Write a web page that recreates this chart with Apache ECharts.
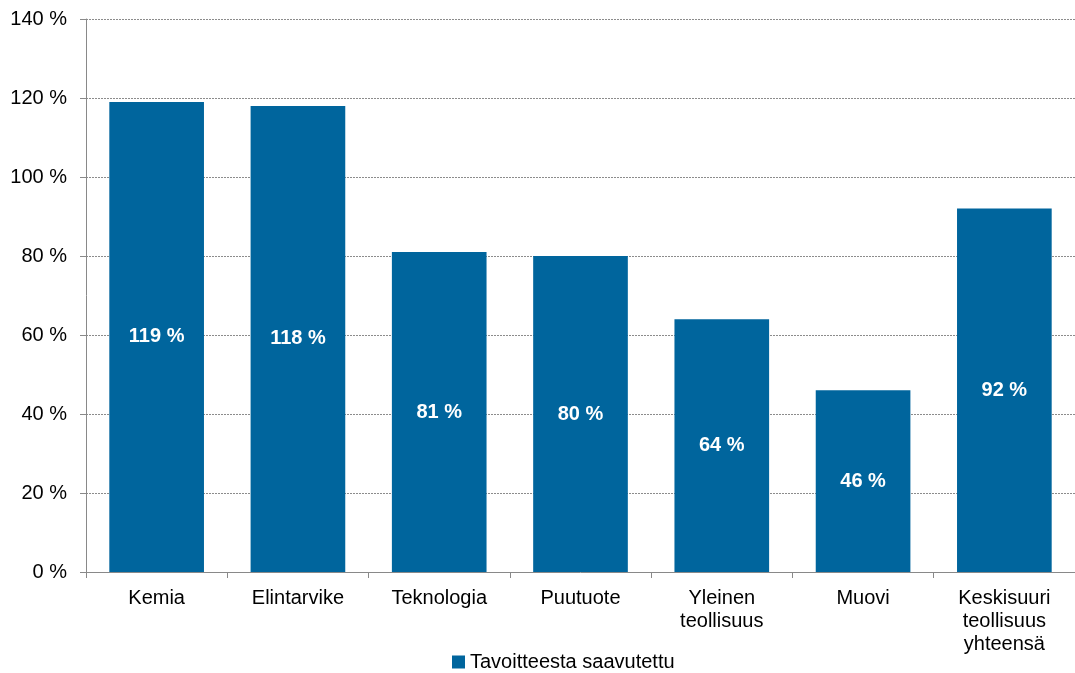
<!DOCTYPE html>
<html><head><meta charset="utf-8">
<script src="https://cdn.jsdelivr.net/npm/echarts@6/dist/echarts.min.js"></script>
<style>html,body{margin:0;padding:0;background:#fff}#c{width:1075px;height:673px}</style>
</head><body><div id="c"></div>
<script>
const categories = ['Kemia', 'Elintarvike', 'Teknologia', 'Puutuote', 'Yleinen\nteollisuus', 'Muovi', 'Keskisuuri\nteollisuus\nyhteensä'];
const values = [119, 118, 81, 80, 64, 46, 92];
const seriesName = 'Tavoitteesta saavutettu';
const font = '"Liberation Sans", Arial, sans-serif';
const chart = echarts.init(document.getElementById('c'));
chart.setOption({
  animation: false,
  textStyle: { fontFamily: font },
  grid: { left: 86, top: 19, width: 990, height: 553, containLabel: false },
  legend: {
    data: [seriesName], left: 447, top: 647, itemWidth: 13, itemHeight: 13, itemGap: 6,
    icon: 'rect', textStyle: { fontSize: 20, color: '#000', fontFamily: font }
  },
  xAxis: {
    type: 'category', data: categories,
    axisLine: { lineStyle: { color: '#898989', width: 1 } },
    axisTick: { show: true, length: 6, lineStyle: { color: '#898989' } },
    axisLabel: { fontSize: 20, color: '#000', margin: 15, lineHeight: 23, interval: 0, fontFamily: font }
  },
  yAxis: {
    type: 'value', min: 0, max: 140, interval: 20,
    axisLine: { show: true, lineStyle: { color: '#898989', width: 1 } },
    axisTick: { show: true, inside: false, length: 6, lineStyle: { color: '#898989' } },
    axisLabel: { fontSize: 20, color: '#000', margin: 19, formatter: v => v + ' %', fontFamily: font },
    splitLine: { show: true, lineStyle: { color: '#8c8c8c', type: [2, 1], width: 1 } }
  },
  series: [{
    name: seriesName, type: 'bar', data: values, barCategoryGap: '33%',
    itemStyle: { color: '#00659D' },
    label: { show: true, position: 'inside', color: '#fff', fontWeight: 'bold', fontSize: 20,
      fontFamily: font, formatter: p => p.value + ' %' }
  }]
});
</script></body></html>
